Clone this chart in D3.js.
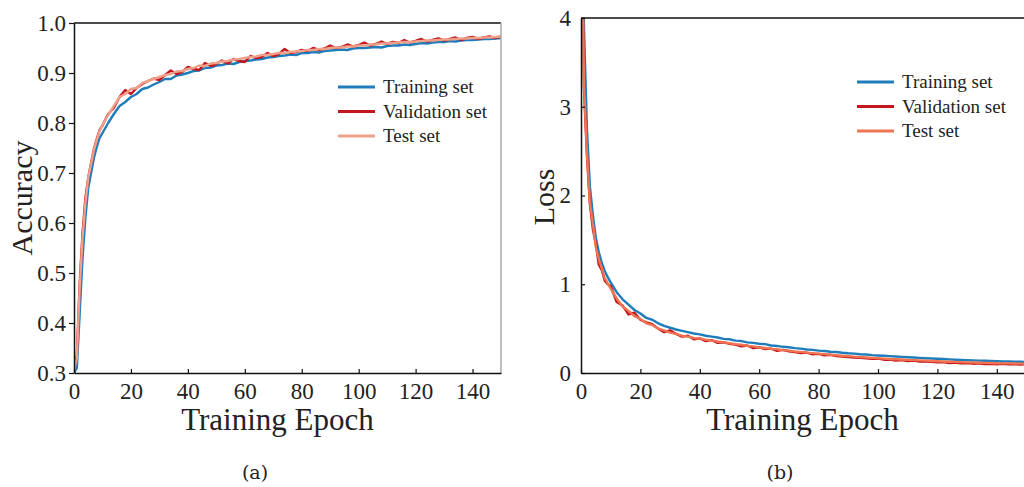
<!DOCTYPE html>
<html>
<head>
<meta charset="utf-8">
<script src="https://cdn.jsdelivr.net/npm/d3@7"></script>
<style>
  body { margin: 0; background: #fff; }
  svg { display: block; font-family: "Liberation Serif", "Times New Roman", serif; }
</style>
</head>
<body>
<div id="chart"></div>
<script>
// Epochs sampled from the curves (every epoch early, then every 2)
const epochs = [0,1,2,3,4,5,6,7,8,9,10,
  12,14,16,18,20,22,24,26,28,30,32,34,36,38,40,42,44,46,48,50,
  52,54,56,58,60,62,64,66,68,70,72,74,76,78,80,82,84,86,88,90,
  92,94,96,98,100,102,104,106,108,110,112,114,116,118,120,122,124,126,128,130,
  132,134,136,138,140,142,144,146,148,150];

const seriesNames = ["Training set", "Validation set", "Test set"];

// (a) accuracy
const accTrain = [0.300,0.310,0.420,0.530,0.610,0.670,0.700,0.730,0.752,0.770,0.780,
  0.800,0.818,0.834,0.842,0.852,0.858,0.868,0.871,0.877,0.882,0.888,0.888,0.895,0.897,0.900,0.904,0.905,0.910,0.911,0.915,
  0.916,0.919,0.918,0.922,0.924,0.925,0.927,0.928,0.931,0.932,0.934,0.935,0.937,0.936,0.940,0.940,0.942,0.941,0.944,0.945,
  0.946,0.947,0.946,0.949,0.950,0.950,0.951,0.952,0.951,0.954,0.955,0.955,0.957,0.956,0.958,0.960,0.959,0.961,0.962,0.962,
  0.964,0.963,0.965,0.966,0.966,0.967,0.968,0.968,0.969,0.970];
const accVal = [0.310,0.335,0.480,0.580,0.650,0.690,0.720,0.748,0.768,0.786,0.795,
  0.818,0.830,0.852,0.866,0.858,0.870,0.878,0.884,0.889,0.886,0.896,0.905,0.898,0.902,0.912,0.908,0.906,0.920,0.914,0.918,
  0.925,0.919,0.928,0.924,0.922,0.934,0.930,0.932,0.940,0.934,0.938,0.948,0.940,0.942,0.946,0.944,0.950,0.946,0.949,0.955,
  0.950,0.952,0.957,0.953,0.956,0.961,0.955,0.958,0.963,0.958,0.962,0.960,0.966,0.961,0.964,0.968,0.963,0.966,0.969,0.965,
  0.968,0.971,0.966,0.970,0.972,0.968,0.971,0.973,0.970,0.973];
const accTest = [0.305,0.330,0.470,0.570,0.640,0.690,0.718,0.746,0.766,0.784,0.796,
  0.816,0.834,0.852,0.858,0.868,0.870,0.880,0.884,0.888,0.892,0.896,0.898,0.903,0.904,0.908,0.910,0.915,0.914,0.919,0.920,
  0.923,0.924,0.927,0.928,0.930,0.932,0.933,0.936,0.936,0.938,0.940,0.940,0.942,0.943,0.944,0.946,0.946,0.948,0.948,0.950,
  0.951,0.951,0.953,0.953,0.955,0.955,0.957,0.957,0.959,0.959,0.960,0.961,0.962,0.962,0.963,0.964,0.965,0.965,0.966,0.967,
  0.967,0.968,0.969,0.969,0.970,0.970,0.971,0.971,0.972,0.973];

// (b) loss
const lossTrain = [6.2,3.9,2.75,2.1,1.78,1.52,1.36,1.24,1.15,1.08,1.02,
  0.91,0.83,0.77,0.71,0.67,0.62,0.60,0.56,0.53,0.51,0.49,0.475,0.46,0.445,0.435,0.42,0.41,0.40,0.385,0.38,
  0.365,0.36,0.345,0.34,0.33,0.325,0.31,0.305,0.295,0.29,0.28,0.275,0.265,0.26,0.252,0.248,0.24,0.236,0.228,0.222,
  0.218,0.212,0.208,0.202,0.198,0.194,0.19,0.186,0.182,0.178,0.174,0.171,0.167,0.164,0.16,0.157,0.153,0.15,0.148,0.145,
  0.142,0.14,0.138,0.135,0.133,0.131,0.13,0.128,0.127,0.125];
const lossVal = [5.8,3.2,2.45,1.9,1.62,1.45,1.22,1.16,1.04,1.0,0.98,
  0.80,0.76,0.66,0.68,0.60,0.57,0.55,0.50,0.46,0.48,0.44,0.41,0.42,0.38,0.39,0.36,0.37,0.34,0.345,0.33,
  0.32,0.30,0.31,0.28,0.29,0.27,0.275,0.25,0.26,0.245,0.235,0.225,0.23,0.21,0.215,0.2,0.205,0.19,0.185,0.18,
  0.175,0.17,0.165,0.16,0.162,0.15,0.152,0.14,0.145,0.135,0.14,0.13,0.128,0.125,0.12,0.122,0.112,0.118,0.11,0.112,
  0.105,0.11,0.1,0.104,0.098,0.103,0.097,0.1,0.096,0.1];
const lossTest = [5.9,3.25,2.48,1.92,1.68,1.42,1.28,1.18,1.07,1.01,0.95,
  0.84,0.75,0.70,0.64,0.61,0.56,0.54,0.50,0.48,0.455,0.44,0.42,0.41,0.395,0.39,0.375,0.365,0.355,0.345,0.335,
  0.325,0.318,0.305,0.30,0.287,0.282,0.272,0.268,0.258,0.252,0.243,0.238,0.23,0.224,0.218,0.213,0.206,0.2,0.195,0.19,
  0.184,0.18,0.175,0.17,0.166,0.162,0.158,0.155,0.152,0.148,0.145,0.142,0.139,0.136,0.133,0.13,0.127,0.125,0.122,0.12,
  0.118,0.116,0.114,0.112,0.11,0.109,0.108,0.107,0.106,0.105];

const accTicks = [0.3,0.4,0.5,0.6,0.7,0.8,0.9,1.0];
const lossTicks = [0,1,2,3,4];
const epochTicks = [0,20,40,60,80,100,120,140];

const serif = "'Liberation Serif', 'Times New Roman', serif";

const svg = d3.select("#chart").append("svg")
  .attr("width", 1024)
  .attr("height", 487);

function drawPanel(p) {
  const x = d3.scaleLinear().domain([0, 150]).range([p.left, p.right]);
  const y = d3.scaleLinear().domain(p.yDomain).range([p.bottom, p.top]);
  const g = svg.append("g");

  // clip lines to the plot area
  g.append("clipPath").attr("id", p.id + "-clip")
    .append("rect")
    .attr("x", p.left).attr("y", p.top)
    .attr("width", p.right - p.left).attr("height", p.bottom - p.top);

  const line = d3.line()
    .x((d, i) => x(epochs[i]))
    .y(d => y(d));

  const lines = g.append("g").attr("clip-path", `url(#${p.id}-clip)`);
  p.series.forEach((s, k) => {
    lines.append("path")
      .datum(s)
      .attr("fill", "none")
      .attr("stroke", p.colors[k])
      .attr("stroke-width", 2.4)
      .attr("stroke-linejoin", "round")
      .attr("d", line);
  });

  // frame: top line and right border
  g.append("line")
    .attr("x1", p.left).attr("x2", p.right)
    .attr("y1", p.top).attr("y2", p.top)
    .attr("stroke", "#111").attr("stroke-width", 1.5);
  g.append("line")
    .attr("x1", p.right).attr("x2", p.right)
    .attr("y1", p.top).attr("y2", p.bottom)
    .attr("stroke", "#aaa").attr("stroke-width", 1.5);

  // axes
  const xAxis = g.append("g")
    .attr("transform", `translate(0,${p.bottom})`)
    .call(d3.axisBottom(x).tickValues(epochTicks).tickSizeInner(-4).tickSizeOuter(0).tickPadding(10));
  const yAxis = g.append("g")
    .attr("transform", `translate(${p.left},0)`)
    .call(d3.axisLeft(y).tickValues(p.yTicks).tickFormat(p.yFormat).tickSizeInner(p.yTickSize).tickSizeOuter(0).tickPadding(p.yPad));

  [xAxis, yAxis].forEach(a => {
    a.attr("font-family", serif).attr("font-size", 23);
    a.select(".domain").attr("stroke", "#111").attr("stroke-width", 1.5);
    a.selectAll(".tick line").attr("stroke", "#111").attr("stroke-width", 1.2);
    a.selectAll("text").attr("fill", "#222");
  });

  // axis titles
  g.append("text")
    .attr("x", (p.left + (p.labelRight || p.right)) / 2 + p.xLabelShift)
    .attr("y", 430)
    .attr("text-anchor", "middle")
    .attr("fill", "#222")
    .style("font-size", "31px")
    .text("Training Epoch");
  g.append("text")
    .attr("transform", `translate(${p.yLabelX},${p.yLabelY}) rotate(-90)`)
    .attr("text-anchor", "middle")
    .attr("fill", "#222")
    .style("font-size", "30px")
    .text(p.yLabel);

  // legend
  const lg = g.append("g").attr("transform", `translate(${p.legendX},${p.legendY})`);
  seriesNames.forEach((name, k) => {
    const row = lg.append("g").attr("transform", `translate(0,${k * 24.5})`);
    row.append("line")
      .attr("x1", 0).attr("x2", 37)
      .attr("stroke", p.colors[k]).attr("stroke-width", 3);
    row.append("text")
      .attr("x", 45).attr("dy", "0.33em")
      .attr("fill", "#222")
      .style("font-size", "19px")
      .text(name);
  });

  // caption
  svg.append("text")
    .attr("x", p.captionX).attr("y", 479)
    .attr("text-anchor", "middle")
    .attr("fill", "#222")
    .style("font-family", "'DejaVu Serif', serif")
    .style("font-size", "19px")
    .text(p.caption);
}

drawPanel({
  id: "acc", left: 74, right: 501, top: 23, bottom: 373,
  yDomain: [0.3, 1.0], yTicks: accTicks, yFormat: d3.format(".1f"),
  yTickSize: 5, yPad: 3,
  series: [accTrain, accVal, accTest],
  colors: ["#1f7dbb", "#c3161c", "#eea08b"],
  yLabel: "Accuracy", yLabelX: 32, yLabelY: 198, xLabelShift: -10,
  legendX: 338, legendY: 87, caption: "(a)", captionX: 255
});

drawPanel({
  id: "loss", left: 581, right: 1026.5, top: 18, bottom: 373,
  yDomain: [0, 4], yTicks: lossTicks, yFormat: d3.format("d"),
  yTickSize: -4, yPad: 10,
  series: [lossTrain, lossVal, lossTest],
  colors: ["#1f7dbb", "#c3161c", "#f07452"],
  yLabel: "Loss", yLabelX: 554, yLabelY: 197, xLabelShift: 0, labelRight: 1024,
  legendX: 857, legendY: 82, caption: "(b)", captionX: 780
});
</script>
</body>
</html>
